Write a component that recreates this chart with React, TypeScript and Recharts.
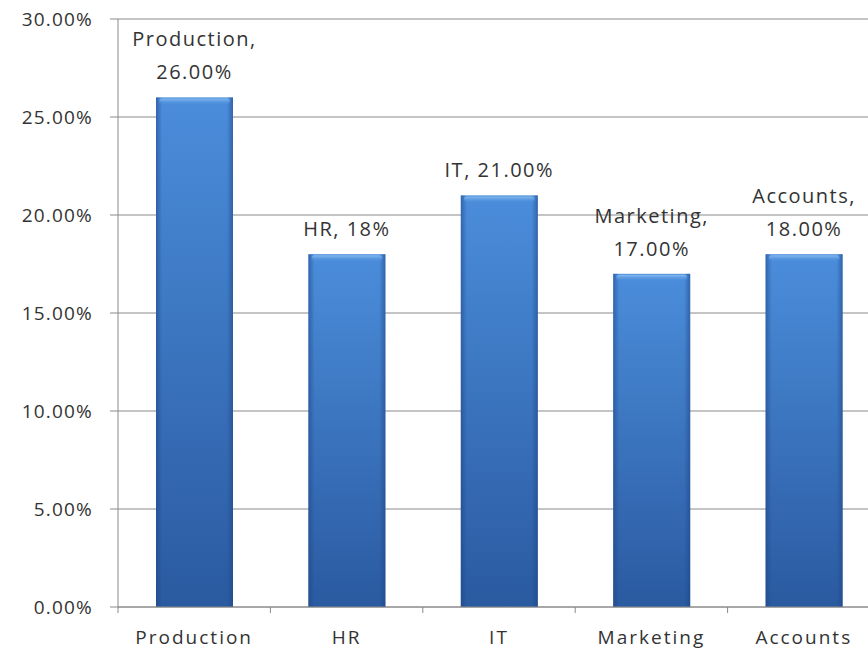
import { BarChart, Bar, XAxis, YAxis, CartesianGrid, LabelList } from 'recharts';

const categories = ['Production', 'HR', 'IT', 'Marketing', 'Accounts'];
const shares = [26, 18, 21, 17, 18];
const dataLabels = [
  ['Production,', '26.00%'],
  ['HR, 18%'],
  ['IT, 21.00%'],
  ['Marketing,', '17.00%'],
  ['Accounts,', '18.00%'],
];
const yTicks = [0, 5, 10, 15, 20, 25, 30];

const CHART_W = 880;
const CHART_H = 655;
const Y_W = 118;
const X_H = 48;
const TOP = 19;
const plotBottom = CHART_H - X_H;
const band = (CHART_W - Y_W) / categories.length;

const FONT = '"Open Sans", sans-serif';
const TEXT = '#333333';
const GRID = '#8a8a8a';

const data = categories.map((name, i) => ({ name, share: shares[i], label: dataLabels[i] }));

function CategoryTick(props: any) {
  const { x, payload } = props;
  const left = x - band / 2;
  return (
    <g>
      <line x1={left} y1={plotBottom} x2={left} y2={plotBottom + 6} stroke={GRID} />
      <text x={x} y={plotBottom + 37} textAnchor="middle" fill={TEXT} fontSize={19} fontFamily={FONT} letterSpacing={2}>
        {payload.value}
      </text>
    </g>
  );
}

function BevelBar(props: any) {
  const { x, y, width, height } = props;
  if (!height || height <= 0) return null;
  return (
    <g>
      <rect x={x} y={y} width={width} height={height} fill="url(#barBody)" />
      <rect x={x} y={y} width={width} height={height} fill="url(#barEdge)" />
      <rect x={x + 3} y={y + 1} width={width - 6} height={6} rx={3} fill="url(#barTop)" />
    </g>
  );
}

function BarLabel(props: any) {
  const { x, y, width, index } = props;
  const lines = dataLabels[index];
  const cx = x + width / 2;
  const lastBase = y - 18;
  return (
    <text textAnchor="middle" fill={TEXT} fontSize={20} fontFamily={FONT} letterSpacing={1.5}>
      {lines.map((l, i) => (
        <tspan key={i} x={cx} y={lastBase - (lines.length - 1 - i) * 33}>
          {l}
        </tspan>
      ))}
    </text>
  );
}

export default function App() {
  return (
    <div style={{ position: 'absolute', left: 0, top: 0, width: 868, height: 655, overflow: 'hidden', background: '#fff' }}>
      <BarChart width={CHART_W} height={CHART_H} data={data} margin={{ top: TOP, right: 0, bottom: 0, left: 0 }} barSize={77}>
        <defs>
          <linearGradient id="barBody" x1="0" y1="0" x2="0" y2="1">
            <stop offset="0%" stopColor="#4b8ddb" />
            <stop offset="100%" stopColor="#2a5aa0" />
          </linearGradient>
          <linearGradient id="barEdge" x1="0" y1="0" x2="1" y2="0">
            <stop offset="0%" stopColor="#1d4485" stopOpacity={0.55} />
            <stop offset="8%" stopColor="#1d4485" stopOpacity={0} />
            <stop offset="92%" stopColor="#1d4485" stopOpacity={0} />
            <stop offset="100%" stopColor="#1d4485" stopOpacity={0.55} />
          </linearGradient>
          <linearGradient id="barTop" x1="0" y1="0" x2="0" y2="1">
            <stop offset="0%" stopColor="#8cc0f2" stopOpacity={0.9} />
            <stop offset="100%" stopColor="#5b9be2" stopOpacity={0} />
          </linearGradient>
        </defs>
        <CartesianGrid vertical={false} stroke={GRID} />
        <XAxis
          dataKey="name"
          height={X_H}
          axisLine={{ stroke: GRID }}
          tickLine={false}
          tick={<CategoryTick />}
          interval={0}
        />
        <YAxis
          width={Y_W}
          domain={[0, 30]}
          ticks={yTicks}
          interval={0}
          axisLine={{ stroke: GRID }}
          tickLine={{ stroke: GRID }}
          tickSize={8}
          tickMargin={17}
          tickFormatter={(v: number) => `${v.toFixed(2)}%`}
          tick={{ fill: TEXT, fontSize: 19, fontFamily: FONT, letterSpacing: 1.2 }}
        />
        <Bar dataKey="share" shape={<BevelBar />} isAnimationActive={false}>
          <LabelList dataKey="share" content={<BarLabel />} />
        </Bar>
      </BarChart>
    </div>
  );
}
